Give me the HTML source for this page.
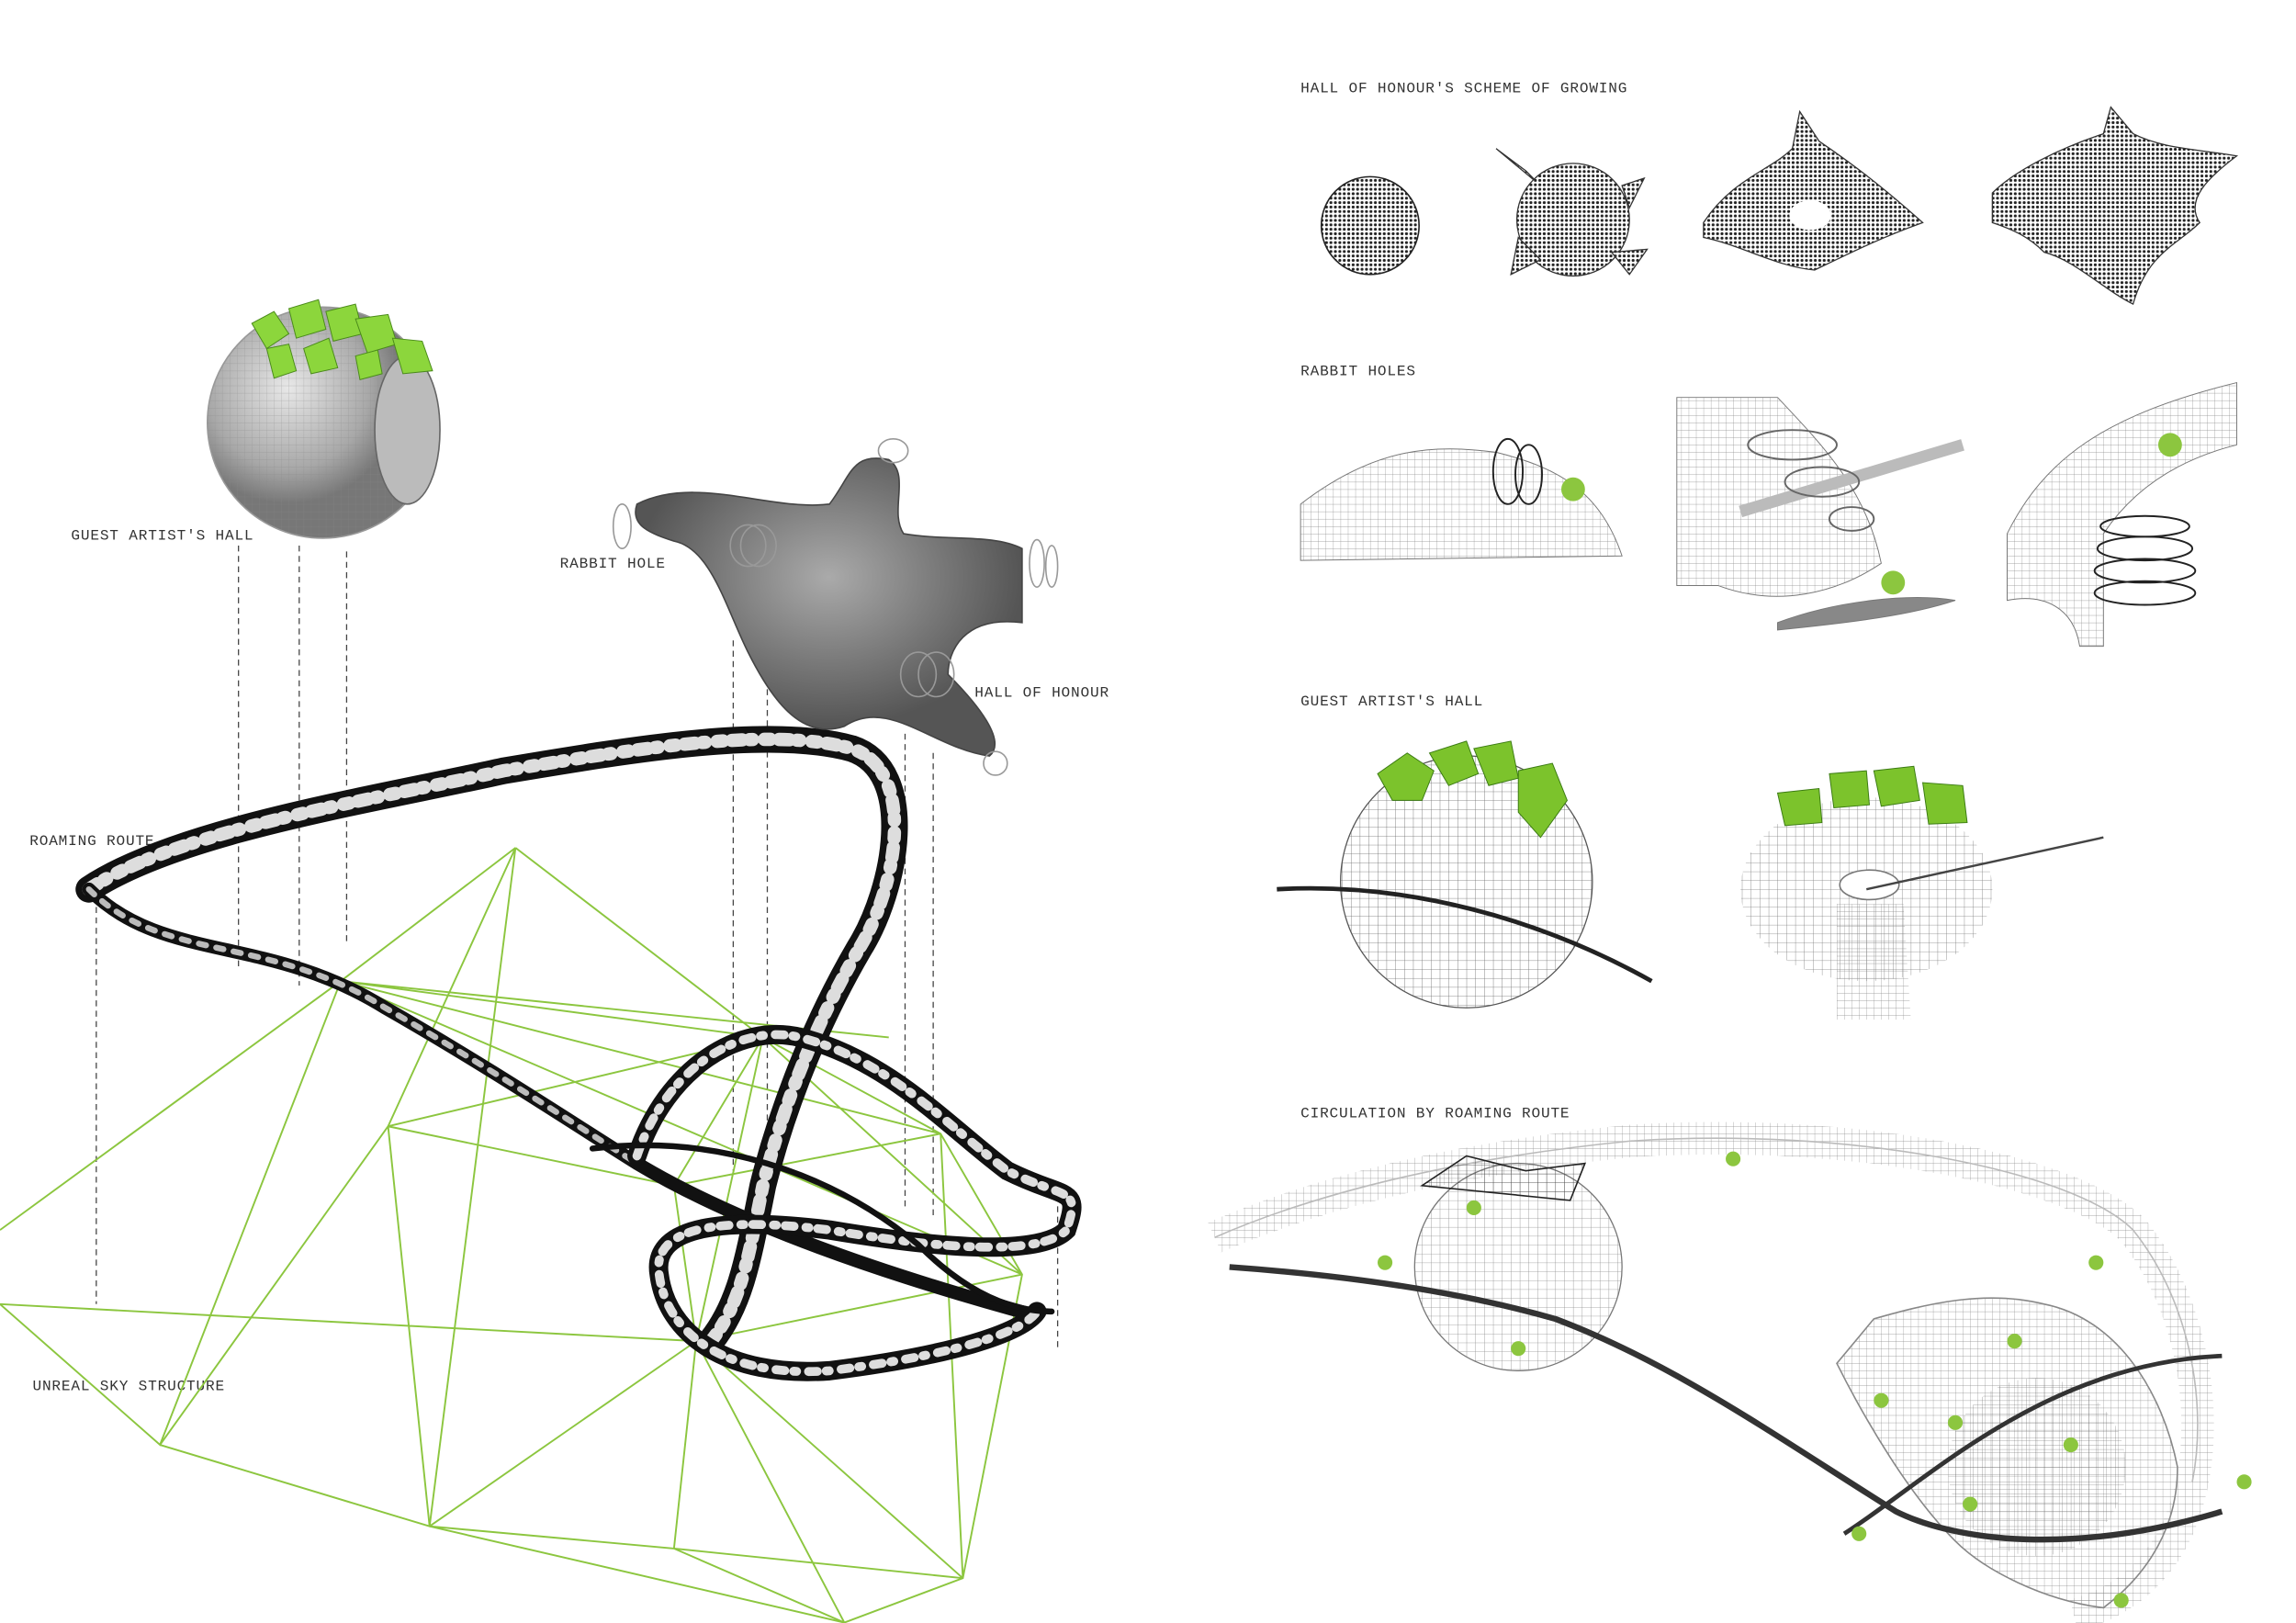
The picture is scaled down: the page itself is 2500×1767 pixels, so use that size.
<!DOCTYPE html>
<html><head><meta charset="utf-8"><style>
html,body{margin:0;padding:0;background:#fff;}
svg{display:block}
text{font-family:"Liberation Mono",monospace;font-size:10px;fill:#333;letter-spacing:0.5px}
</style></head><body>
<svg width="2500" height="1767" viewBox="0 0 1550 1095" xmlns="http://www.w3.org/2000/svg">
<defs>
<pattern id="grid" width="6" height="6" patternUnits="userSpaceOnUse"><path d="M6 0H0V6" fill="none" stroke="#444" stroke-width="0.5"/></pattern>
<pattern id="grid2" width="5" height="5" patternUnits="userSpaceOnUse"><path d="M5 0H0V5" fill="none" stroke="#888" stroke-width="0.4"/></pattern>
<pattern id="dots" width="3" height="3" patternUnits="userSpaceOnUse"><rect width="3" height="3" fill="#fff"/><circle cx="1.5" cy="1.5" r="1" fill="#222"/></pattern>
<radialGradient id="sph" cx="0.35" cy="0.35"><stop offset="0" stop-color="#e8e8e8"/><stop offset="0.7" stop-color="#a8a8a8"/><stop offset="1" stop-color="#777"/></radialGradient>
<radialGradient id="blob" cx="0.5" cy="0.4"><stop offset="0" stop-color="#aaa"/><stop offset="1" stop-color="#555"/></radialGradient>
</defs>
<rect width="1550" height="1095" fill="#fff"/>

<text x="878" y="62">HALL OF HONOUR'S SCHEME OF GROWING</text>
<text x="878" y="253">RABBIT HOLES</text>
<text x="878" y="476">GUEST ARTIST'S HALL</text>
<text x="878" y="754">CIRCULATION BY ROAMING ROUTE</text>
<text x="48" y="364">GUEST ARTIST'S HALL</text>
<text x="378" y="383">RABBIT HOLE</text>
<text x="658" y="470">HALL OF HONOUR</text>
<text x="20" y="570">ROAMING ROUTE</text>
<text x="22" y="938">UNREAL SKY STRUCTURE</text>

<g stroke="#444" stroke-width="0.8" stroke-dasharray="4,3">
<line x1="161" y1="368" x2="161" y2="655"/><line x1="202" y1="368" x2="202" y2="665"/><line x1="234" y1="372" x2="234" y2="635"/>
<line x1="65" y1="605" x2="65" y2="880"/><line x1="495" y1="432" x2="495" y2="790"/><line x1="518" y1="465" x2="518" y2="780"/>
<line x1="611" y1="495" x2="611" y2="815"/><line x1="630" y1="508" x2="630" y2="820"/><line x1="714" y1="800" x2="714" y2="910"/>
</g>

<g stroke="#8cc63f" stroke-width="1.2" fill="none">
<path d="M348 572 L230 662 L0 830 M230 662 L108 975 L0 880 M348 572 L290 1030 M348 572 L515 700 M348 572 L262 760 M230 662 L515 700 L635 765 L690 860 L650 1065 L570 1095 L455 1045 L290 1030 L108 975"/>
<path d="M230 662 L635 765 M230 662 L690 860 M230 662 L600 700 M262 760 L455 800 L635 765 M262 760 L290 1030 M262 760 L108 975 M262 760 L515 700 M0 880 L470 905 L690 860 M470 905 L455 1045 M470 905 L290 1030 M470 905 L570 1095 M470 905 L650 1065 M515 700 L470 905 M515 700 L455 800 M455 800 L470 905 M635 765 L650 1065 M515 700 L690 860 M290 1030 L570 1095 M455 1045 L650 1065"/>
</g>

<g fill="none" stroke-linecap="round">
<path d="M60 600 C120 560 250 540 340 520 C430 505 520 490 575 505 C620 520 605 600 580 640 C545 700 525 760 515 800 C505 850 500 880 480 905" stroke="#111" stroke-width="18"/>
<path d="M60 600 C120 560 250 540 340 520 C430 505 520 490 575 505 C620 520 605 600 580 640 C545 700 525 760 515 800 C505 850 500 880 480 905" stroke="#ddd" stroke-width="9" stroke-dasharray="7,5,2,8,4,6"/>
<path d="M60 600 C110 650 180 630 260 680 C330 720 390 760 430 785 C480 815 560 850 700 888" stroke="#111" stroke-width="9"/>
<path d="M60 600 C110 650 180 630 260 680 C330 720 390 760 430 785" stroke="#bbb" stroke-width="4" stroke-dasharray="5,7"/>
<path d="M430 780 C450 720 500 690 540 700 C600 715 640 760 680 790 C720 810 730 800 720 830 C700 850 620 840 560 830 C480 820 440 830 445 860 C450 900 490 930 560 925 C640 915 690 900 700 885" stroke="#111" stroke-width="13"/>
<path d="M430 780 C450 720 500 690 540 700 C600 715 640 760 680 790 C720 810 730 800 720 830 C700 850 620 840 560 830 C480 820 440 830 445 860 C450 900 490 930 560 925 C640 915 690 900 700 885" stroke="#ddd" stroke-width="6" stroke-dasharray="6,6,2,8"/>
<path d="M400 775 C480 765 560 790 620 840 C650 870 680 885 710 885" stroke="#111" stroke-width="4"/>
</g>

<circle cx="218" cy="285" r="78" fill="url(#sph)" stroke="#999"/>
<circle cx="218" cy="285" r="78" fill="url(#grid2)" opacity="0.6"/>
<ellipse cx="275" cy="290" rx="22" ry="50" fill="#bbb" stroke="#666"/>
<g fill="#8cd63c" stroke="#4a8a1a" stroke-width="0.6">
<polygon points="170,218 185,210 195,225 180,235"/><polygon points="195,208 215,202 220,222 200,228"/><polygon points="220,210 240,205 245,225 225,230"/>
<polygon points="240,215 262,212 268,232 248,238"/><polygon points="265,228 285,230 292,250 272,252"/><polygon points="205,235 222,228 228,248 210,252"/><polygon points="180,235 195,232 200,250 185,255"/><polygon points="240,240 255,236 258,252 243,256"/>
</g>

<path d="M430 340 C470 320 520 345 560 340 C575 320 575 305 600 310 C615 320 600 345 610 360 C640 365 670 360 690 370 L690 420 C650 415 640 440 640 455 C660 475 680 500 668 510 C630 505 600 470 570 490 C540 500 520 470 505 440 C490 410 480 370 455 365 C440 360 425 355 430 340 Z" fill="url(#blob)" stroke="#444"/>
<g fill="none" stroke="#999" stroke-width="1">
<ellipse cx="603" cy="304" rx="10" ry="8"/><ellipse cx="420" cy="355" rx="6" ry="15"/><ellipse cx="505" cy="368" rx="12" ry="14"/><ellipse cx="512" cy="368" rx="12" ry="14"/>
<ellipse cx="700" cy="380" rx="5" ry="16"/><ellipse cx="710" cy="382" rx="4" ry="14"/><ellipse cx="620" cy="455" rx="12" ry="15"/><ellipse cx="632" cy="455" rx="12" ry="15"/><ellipse cx="672" cy="515" rx="8" ry="8"/>
</g>

<circle cx="925" cy="152" r="33" fill="url(#dots)" stroke="#222"/>
<g fill="url(#dots)" stroke="#333" stroke-width="0.8">
<path d="M1030 115 L1010 100 L1040 125 Z"/>
<circle cx="1062" cy="148" r="38"/><path d="M1025 160 L1020 185 L1040 175 Z"/><path d="M1095 125 L1110 120 L1100 140Z"/><path d="M1088 170 L1112 168 L1100 185Z"/>
<path d="M1150 150 C1170 120 1195 115 1210 100 L1215 75 L1228 95 C1250 110 1270 125 1298 150 C1270 160 1250 170 1225 182 C1200 180 1175 165 1150 160Z"/>
<path d="M1345 130 C1360 115 1390 100 1420 90 L1425 72 L1440 90 C1460 100 1480 100 1510 105 C1490 120 1475 135 1485 150 C1470 165 1450 170 1440 205 C1420 195 1400 175 1380 170 C1370 160 1360 155 1345 150Z"/>
</g>
<ellipse cx="1222" cy="145" rx="14" ry="10" fill="#fff"/>

<g fill="url(#grid2)" stroke="#777" stroke-width="0.6">
<path d="M878 340 C930 300 970 300 1010 305 C1050 315 1080 330 1095 375 L878 378Z"/>
<path d="M1132 268 L1200 268 C1230 300 1260 330 1270 380 C1240 400 1200 410 1160 395 L1132 395Z"/>
<path d="M1355 360 C1380 310 1420 280 1510 258 L1510 300 C1470 310 1440 330 1420 360 L1420 436 L1404 436 C1400 410 1380 400 1355 405Z"/>
<path d="M1200 420 C1240 405 1290 400 1320 405 C1290 415 1250 420 1200 425Z" fill="#888"/>
</g>
<path d="M1175 345 L1325 300" stroke="#bbb" stroke-width="8"/>
<g fill="none" stroke="#222" stroke-width="1.2">
<ellipse cx="1018" cy="318" rx="10" ry="22"/><ellipse cx="1032" cy="320" rx="9" ry="20"/>
<ellipse cx="1448" cy="355" rx="30" ry="7"/><ellipse cx="1448" cy="370" rx="32" ry="8"/><ellipse cx="1448" cy="385" rx="34" ry="8"/><ellipse cx="1448" cy="400" rx="34" ry="8"/>
<ellipse cx="1210" cy="300" rx="30" ry="10" stroke="#666"/><ellipse cx="1230" cy="325" rx="25" ry="10" stroke="#666"/><ellipse cx="1250" cy="350" rx="15" ry="8" stroke="#666"/>
</g>
<g fill="#8cc63f"><circle cx="1062" cy="330" r="8"/><circle cx="1278" cy="393" r="8"/><circle cx="1465" cy="300" r="8"/></g>

<circle cx="990" cy="595" r="85" fill="url(#grid)" opacity="0.8"/>
<circle cx="990" cy="595" r="85" fill="none" stroke="#555" stroke-width="0.8"/>
<path d="M862 600 C950 595 1040 620 1115 662" stroke="#222" stroke-width="3" fill="none"/>
<ellipse cx="1260" cy="600" rx="85" ry="62" fill="url(#grid)" opacity="0.7"/>
<ellipse cx="1262" cy="597" rx="20" ry="10" fill="#fff" stroke="#777"/>
<path d="M1240 610 L1240 688 L1290 688 L1285 610Z" fill="url(#grid2)"/>
<path d="M1260 600 L1420 565" stroke="#444" stroke-width="1.5"/>
<g fill="#7cc32c" stroke="#3a7a12" stroke-width="0.6">
<polygon points="930,522 950,508 968,520 960,540 940,540"/><polygon points="965,508 990,500 998,522 978,530"/><polygon points="995,505 1020,500 1025,525 1005,530"/><polygon points="1025,520 1048,515 1058,540 1040,565 1025,548"/>
<polygon points="1200,535 1228,532 1230,555 1205,557"/><polygon points="1235,522 1260,520 1262,543 1238,545"/><polygon points="1265,520 1292,517 1296,540 1270,544"/><polygon points="1298,528 1325,530 1328,555 1302,556"/>
</g>

<path d="M820 835 C900 800 1000 780 1100 770 C1250 760 1400 790 1440 830 C1480 880 1490 950 1480 1000 C1470 1050 1440 1080 1400 1090" fill="none" stroke="url(#grid2)" stroke-width="22"/>
<path d="M820 835 C900 800 1000 780 1100 770 C1250 760 1400 790 1440 830 C1480 880 1490 950 1480 1000" fill="none" stroke="#bbb" stroke-width="1"/>
<circle cx="1025" cy="855" r="70" fill="url(#grid)" opacity="0.6"/>
<circle cx="1025" cy="855" r="70" fill="none" stroke="#777" stroke-width="0.8"/>
<path d="M960 800 L990 780 L1030 790 L1070 785 L1060 810 L1010 805Z" fill="url(#grid)" stroke="#222"/>
<path d="M1265 890 C1300 880 1340 870 1380 880 C1430 890 1460 940 1470 990 C1470 1040 1440 1070 1420 1085 C1380 1080 1340 1060 1320 1040 C1290 1010 1260 960 1240 920Z" fill="url(#grid2)" stroke="#888"/>
<circle cx="1375" cy="990" r="60" fill="url(#grid)" opacity="0.6"/>
<path d="M830 855 C900 860 980 870 1050 890 C1130 920 1200 970 1280 1020 C1320 1040 1400 1050 1500 1020" fill="none" stroke="#333" stroke-width="4"/>
<path d="M1245 1035 C1300 1000 1380 920 1500 915" fill="none" stroke="#333" stroke-width="3"/>
<g fill="#8cc63f"><circle cx="1170" cy="782" r="5"/><circle cx="935" cy="852" r="5"/><circle cx="1025" cy="910" r="5"/><circle cx="1415" cy="852" r="5"/><circle cx="1360" cy="905" r="5"/><circle cx="1270" cy="945" r="5"/><circle cx="1320" cy="960" r="5"/><circle cx="1398" cy="975" r="5"/><circle cx="1255" cy="1035" r="5"/><circle cx="1330" cy="1015" r="5"/><circle cx="1432" cy="1080" r="5"/><circle cx="1515" cy="1000" r="5"/><circle cx="995" cy="815" r="5"/></g>
</svg>
</body></html>
